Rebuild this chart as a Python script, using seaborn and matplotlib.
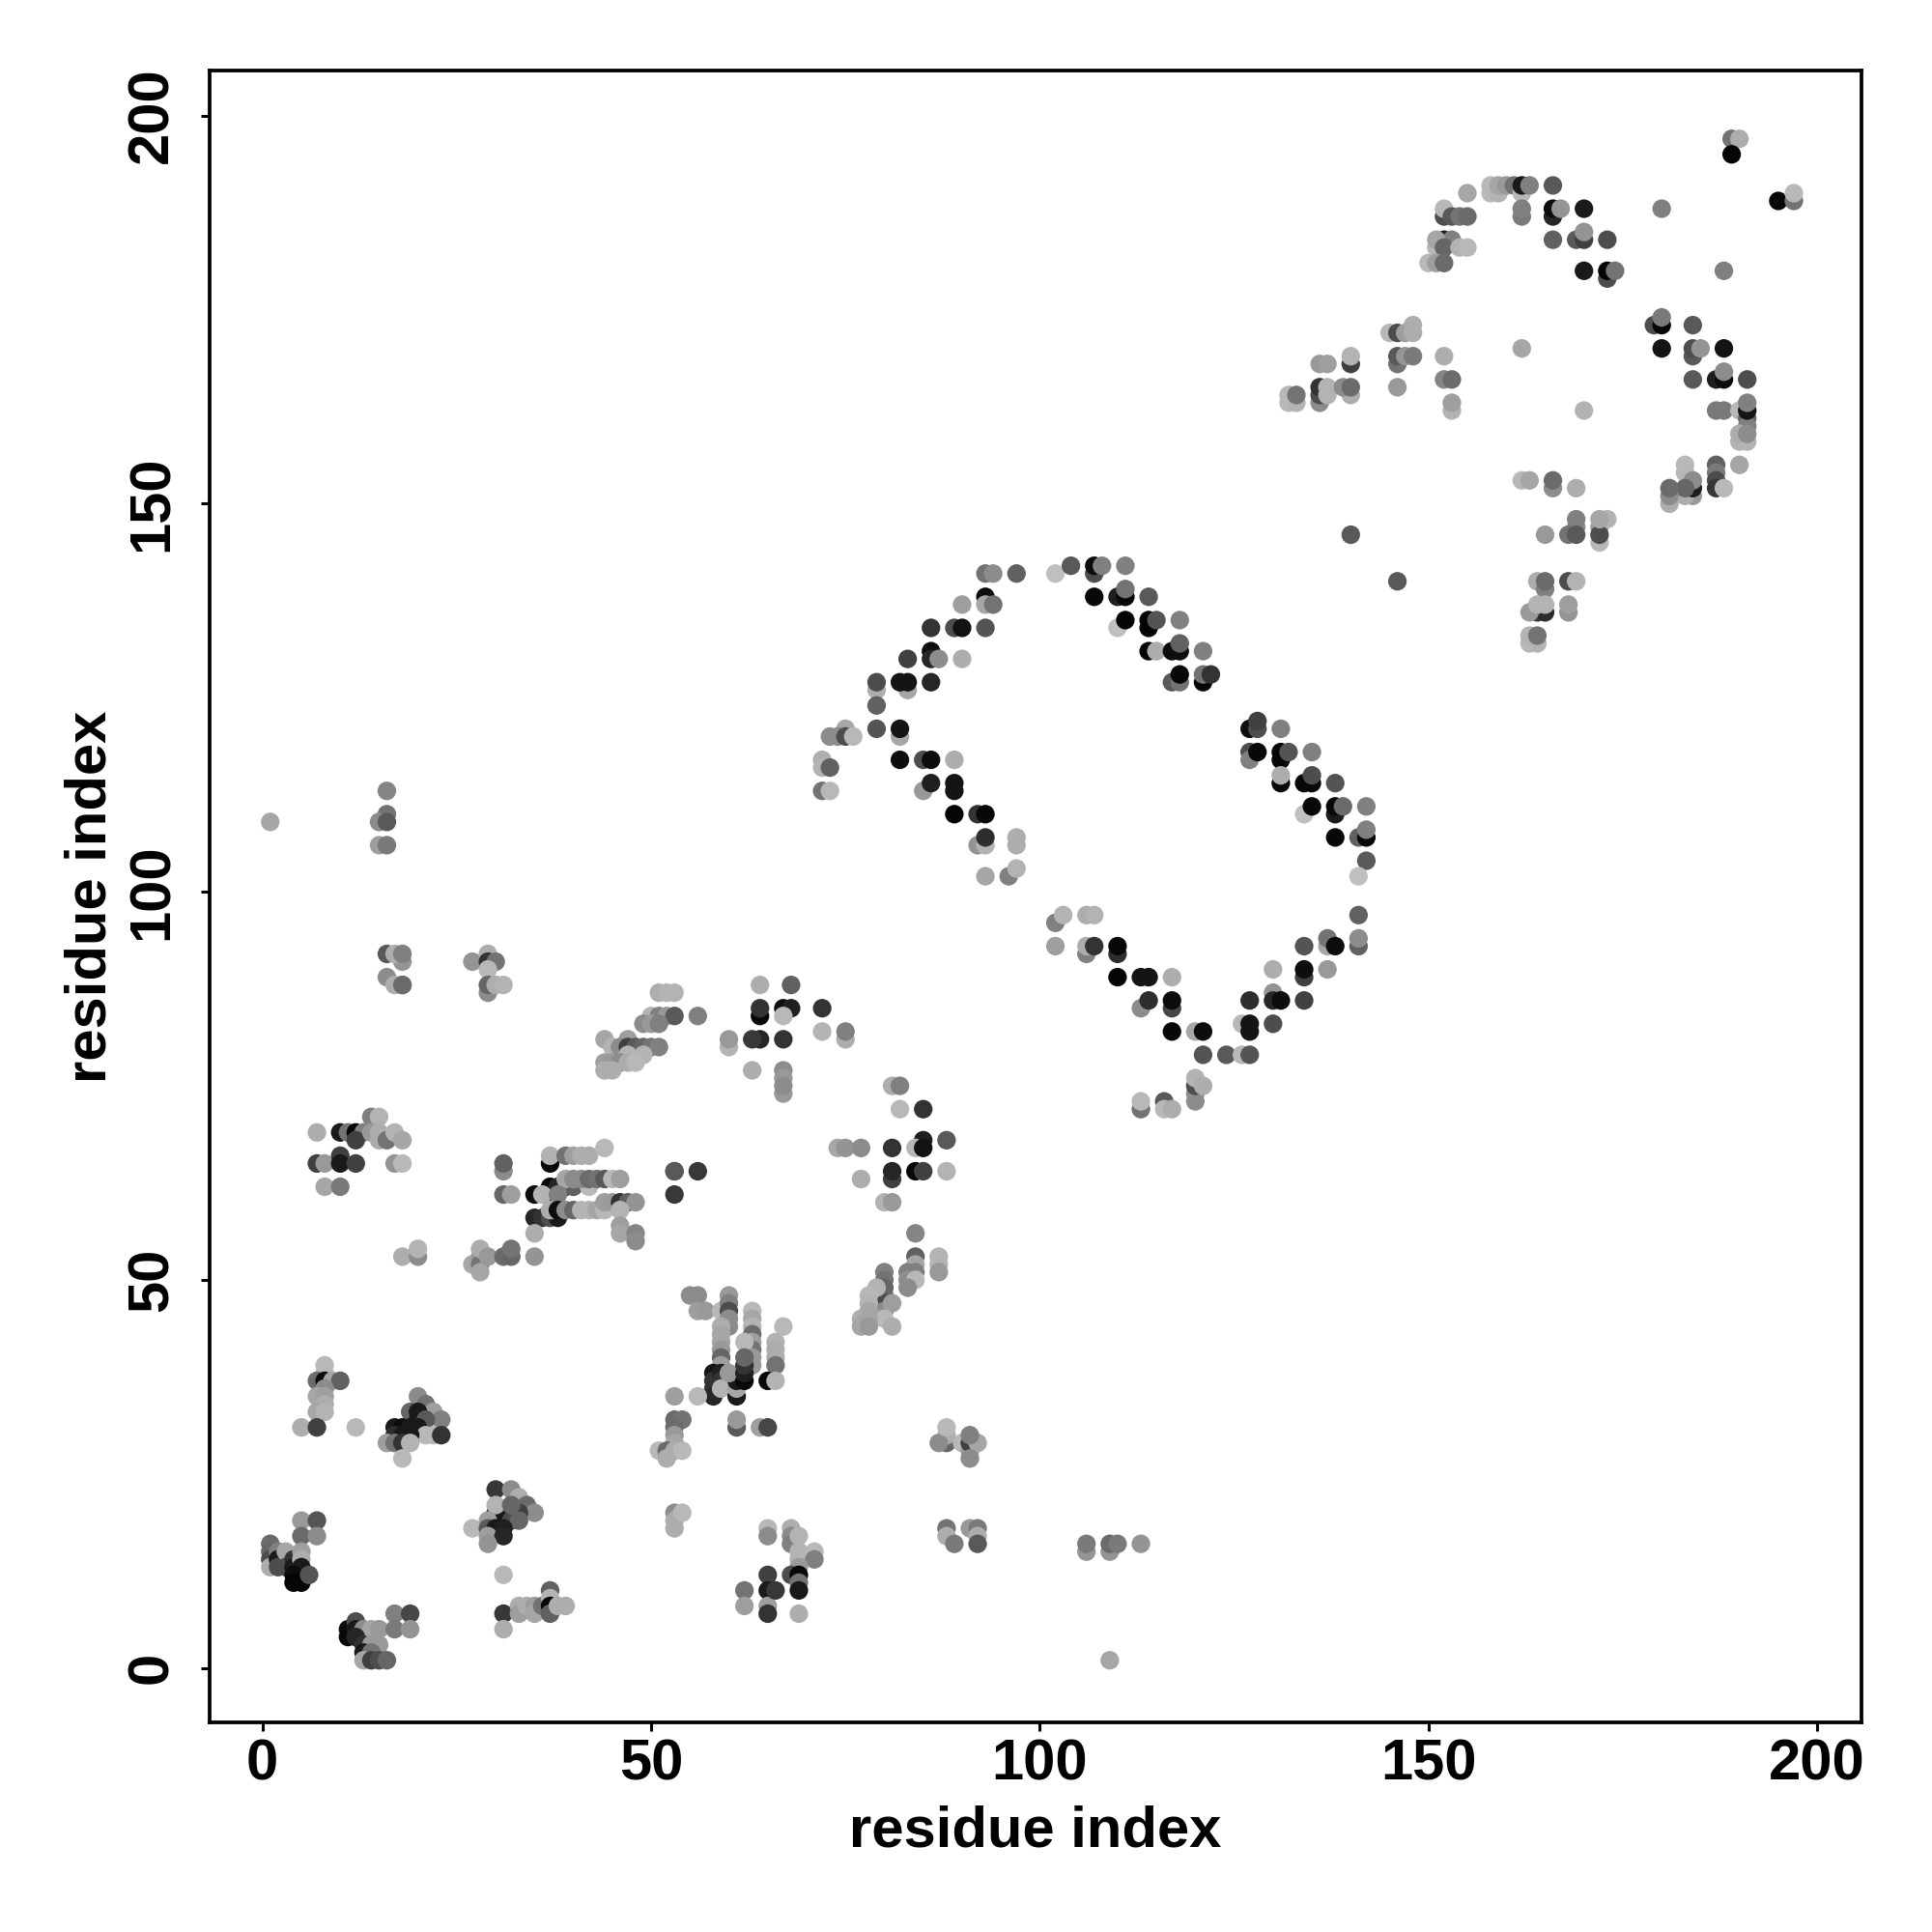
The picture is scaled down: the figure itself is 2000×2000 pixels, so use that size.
import pandas as pd
import seaborn as sns
import matplotlib.pyplot as plt

# contact map: residue pairs and their grey level, by cluster
corner_x = [5, 7, 5, 7, 1, 1, 1, 1, 2, 2, 2, 3, 3, 4, 4, 5, 5, 5, 4, 4, 5, 6]
corner_y = [19, 19, 17, 17, 16, 15, 14, 13, 15, 14, 13, 15, 13, 14, 13, 15, 14, 13, 12, 11, 11, 12]
corner_s = [.6, .33, .42, .55, .42, .4, .3, .68, .5, .1, .3, .65, .3, .2, .1, .62, .68, .1, .05, .02, .02, .33]

foot_x = [11, 11, 12, 12, 13, 14, 15, 12, 13, 14, 15, 13, 14, 13, 14, 15, 16, 17, 19, 17, 19]
foot_y = [5, 4, 6, 5, 5, 5, 5, 4, 3, 3, 3, 2, 2, 1, 1, 1, 1, 7, 7, 5, 5]
foot_s = [.05, .03, .3, .1, .55, .65, .6, .15, .2, .6, .6, .1, .45, .65, .25, .3, .4, .5, .28, .48, .58]

tri_x = [30, 32, 33, 34, 35, 30, 33, 32, 30, 31, 31, 32, 33, 30, 32, 27, 29, 29, 30, 31, 29, 31, 29, 31]
tri_y = [23, 23, 22, 21, 20, 20, 20, 20, 19, 20, 19, 19, 19, 21, 21, 18, 19, 18, 18, 18, 17, 17, 16, 12]
tri_s = [.22, .55, .68, .42, .55, .1, .25, .15, .05, .15, .1, .3, .4, .7, .4, .72, .62, .35, .1, .12, .62, .15, .58, .72]

low_x = [31, 31, 33, 33, 34, 35, 35, 36, 37, 37, 37, 37, 38, 39, 53, 53, 54, 53, 62, 62, 65, 65, 65, 66, 65, 65, 69]
low_y = [7, 5, 8, 7, 8, 8, 7, 8, 10, 9, 8, 7, 8, 8, 20, 19, 20, 18, 10, 8, 12, 10, 8, 10, 7, 18, 7]
low_s = [.22, .68, .68, .62, .68, .62, .65, .45, .38, .7, .03, .38, .68, .68, .55, .68, .72, .68, .45, .62, .25, .1, .62, .22, .2, .72, .68]

hook_x = [65, 68, 68, 68, 69, 69, 69, 71, 71, 69, 68, 69, 69, 69, 88, 88, 89, 91, 92, 92, 92]
hook_y = [17, 18, 17, 16, 17, 15, 14, 15, 14, 13, 12, 12, 11, 10, 18, 17, 16, 18, 18, 17, 16]
hook_s = [.55, .68, .55, .5, .7, .7, .7, .72, .5, .6, .3, .03, .45, .1, .45, .68, .48, .6, .48, .68, .35]

tail_x = [106, 106, 109, 109, 110, 113, 109, 88, 88, 87, 88, 90, 91, 91, 92, 91, 91]
tail_y = [15, 16, 15, 16, 16, 16, 1, 29, 30, 29, 31, 29, 28, 29, 29, 27, 30]
tail_s = [.58, .48, .58, .42, .48, .58, .65, .4, .68, .55, .72, .72, .6, .25, .65, .55, .5]

stack_x = [55, 56, 56, 57, 59, 60, 60, 60, 60, 60, 59, 59, 59, 59, 59, 59, 58, 58, 58, 58, 59, 59, 59]
stack_y = [48, 48, 46, 46, 46, 48, 47, 46, 45, 44, 44, 43, 42, 41, 40, 39, 38, 37, 36, 35, 38, 37, 36]
stack_s = [.55, .55, .62, .6, .72, .6, .5, .3, .55, .55, .68, .65, .65, .6, .4, .62, .08, .2, .2, .15, .12, .2, .7]

stack2_x = [63, 63, 63, 63, 63, 63, 63, 63, 62, 67, 66, 66, 66, 66, 65, 66, 61, 61, 61, 60, 62, 62, 62, 62]
stack2_y = [46, 45, 44, 43, 42, 41, 40, 39, 42, 44, 42, 41, 40, 39, 37, 37, 35, 36, 37, 38, 37, 38, 39, 40]
stack2_s = [.72, .65, .7, .42, .62, .45, .6, .6, .72, .72, .7, .68, .68, .45, .03, .7, .1, .65, .1, .6, .03, .12, .2, .4]

under_x = [53, 56, 53, 54, 53, 53, 53, 51, 52, 53, 54, 52, 61, 61, 64, 65]
under_y = [35, 35, 32, 32, 31, 30, 29, 28, 28, 28, 28, 27, 31, 32, 31, 31]
under_s = [.62, .72, .42, .45, .42, .6, .65, .72, .42, .68, .72, .68, .35, .6, .62, .28]

arm_x = [8, 8, 7, 8, 9, 10, 8, 7, 8, 8, 7, 8, 5, 7, 12]
arm_y = [39, 38, 37, 37, 37, 37, 36, 35, 35, 34, 33, 33, 31, 31, 31]
arm_s = [.72, .72, .42, .05, .65, .38, .55, .65, .62, .68, .65, .7, .68, .25, .72]

wedge_x = [20, 21, 22, 23, 19, 20, 20, 21, 17, 18, 19, 20, 21, 22, 23, 17, 18, 19, 16, 17, 18, 19, 18]
wedge_y = [35, 34, 33, 32, 33, 33, 32, 32, 31, 31, 31, 31, 30, 30, 30, 30, 30, 30, 29, 29, 29, 29, 27]
wedge_s = [.55, .45, .62, .5, .4, .1, .1, .35, .1, .05, .1, .1, .72, .72, .2, .18, .1, .1, .62, .45, .2, .7, .72]

mid_x = [7, 10, 11, 12, 13, 12, 14, 15, 14, 15, 15, 16, 17, 18, 7, 8, 10, 10, 12, 17, 18, 8, 10]
mid_y = [69, 69, 69, 69, 69, 68, 71, 71, 69, 69, 68, 68, 69, 68, 65, 65, 66, 65, 65, 65, 65, 62, 62]
mid_s = [.68, .1, .45, .03, .5, .25, .5, .7, .6, .68, .68, .45, .7, .65, .25, .6, .25, .1, .25, .58, .72, .65, .48]

bars_x = [31, 31, 31, 32, 37, 37, 39, 40, 41, 42, 44, 37, 37, 38, 39, 40, 42, 39, 40, 41, 42, 43, 44, 45, 46, 35, 36, 38]
bars_y = [64, 65, 61, 61, 65, 66, 66, 66, 66, 66, 67, 62, 61, 62, 62, 62, 62, 63, 63, 63, 63, 63, 63, 63, 63, 61, 61, 61]
bars_s = [.55, .38, .4, .62, .03, .7, .45, .62, .68, .68, .72, .02, .02, .15, .2, .38, .72, .65, .55, .55, .42, .45, .35, .72, .62, .05, .7, .5]

bars2_x = [35, 36, 37, 38, 37, 38, 39, 40, 41, 42, 43, 44, 44, 45, 46, 47, 48, 46, 35, 46, 46, 48, 48]
bars2_y = [58, 58, 58, 58, 59, 59, 59, 59, 59, 59, 59, 59, 60, 60, 60, 60, 60, 59, 56, 57, 56, 56, 55]
bars2_s = [.15, .2, .3, .1, .68, .05, .55, .4, .7, .7, .65, .72, .62, .6, .2, .38, .58, .7, .68, .62, .65, .52, .55]

flat_x = [18, 20, 20, 27, 28, 28, 28, 28, 29, 31, 32, 32, 35, 53, 53, 53]
flat_y = [53, 53, 54, 52, 53, 52, 51, 54, 53, 53, 53, 54, 53, 64, 61, 64]
flat_s = [.68, .55, .7, .65, .6, .45, .65, .68, .6, .42, .4, .45, .58, .35, .22, .35]

top_x = [56, 1, 16, 16, 15, 16, 15, 16, 16, 18, 17, 18, 18, 16, 17, 18, 27, 29, 29, 30, 29, 29, 29, 30, 31]
top_y = [64, 109, 113, 110, 109, 109, 106, 106, 92, 91, 92, 92, 88, 89, 88, 88, 91, 92, 91, 91, 90, 87, 88, 88, 88]
top_s = [.22, .65, .52, .45, .55, .35, .62, .48, .35, .58, .68, .5, .42, .55, .68, .42, .58, .68, .2, .45, .72, .55, .4, .68, .7]

slope_x = [51, 52, 53, 50, 51, 52, 53, 56, 49, 50, 51, 44, 47, 45, 46, 47, 48, 49, 50, 51, 47, 49, 44, 45, 46, 47, 48, 44, 45]
slope_y = [87, 87, 87, 84, 84, 84, 84, 84, 83, 83, 83, 81, 81, 80, 80, 80, 80, 80, 80, 80, 79, 79, 78, 78, 78, 78, 78, 77, 77]
slope_s = [.68, .7, .7, .7, .5, .6, .35, .5, .55, .6, .5, .65, .62, .7, .55, .25, .35, .4, .45, .5, .7, .7, .62, .6, .55, .68, .72, .68, .68]

centre_x = [60, 60, 64, 68, 64, 64, 67, 68, 67, 72, 64, 63, 67, 72, 75, 75, 63, 67, 67, 67, 67]
centre_y = [80, 81, 88, 88, 84, 85, 85, 85, 84, 85, 81, 81, 81, 82, 81, 82, 77, 77, 76, 74, 75]
centre_s = [.7, .6, .68, .38, .03, .2, .05, .12, .72, .2, .15, .22, .2, .7, .68, .5, .68, .55, .6, .6, .55]

patch_x = [81, 82, 82, 85, 85, 88, 84, 85, 74, 75, 77, 81, 81, 81, 84, 85, 88, 77, 80, 81]
patch_y = [75, 75, 72, 72, 68, 68, 67, 67, 67, 67, 67, 67, 63, 64, 64, 64, 64, 63, 60, 60]
patch_s = [.68, .5, .72, .2, .12, .35, .72, .08, .65, .58, .55, .2, .25, .15, .03, .25, .7, .68, .7, .6]

fan_x = [84, 84, 87, 84, 87, 83, 84, 87, 83, 84, 83, 80, 80, 80, 80, 80, 80, 79, 78, 78, 78, 81, 80, 77, 78, 77, 78, 81]
fan_y = [56, 53, 53, 52, 52, 51, 51, 51, 50, 50, 49, 51, 50, 49, 48, 47, 46, 49, 48, 47, 46, 47, 45, 45, 45, 44, 44, 44]
fan_s = [.52, .38, .7, .65, .7, .5, .5, .6, .55, .72, .55, .5, .45, .4, .4, .3, .55, .7, .72, .7, .65, .62, .72, .68, .65, .65, .6, .68]

ring_a_x = [93, 94, 97, 102, 107, 104, 107, 108, 111, 93, 93, 94, 90, 86, 89, 90, 93, 86, 86, 87, 83, 90, 79, 83, 79, 82, 83, 86, 79, 79, 82, 82]
ring_a_y = [141, 141, 141, 141, 141, 142, 142, 142, 142, 138, 137, 137, 137, 134, 134, 134, 134, 131, 130, 130, 130, 130, 126, 126, 127, 127, 127, 127, 124, 121, 120, 121]
ring_a_s = [.45, .55, .38, .75, .3, .35, .05, .5, .5, .05, .65, .45, .62, .2, .3, .07, .33, .05, .15, .55, .25, .68, .68, .65, .3, .08, .08, .15, .38, .33, .65, .08]

elbow_x = [75, 73, 74, 75, 76, 72, 72, 73, 72, 73, 82, 85, 86, 89, 85, 86, 89, 89, 89, 92, 93, 92, 93, 93, 97, 97, 93, 96, 97]
elbow_y = [121, 120, 120, 120, 120, 117, 116, 116, 113, 113, 117, 117, 117, 117, 113, 114, 114, 113, 110, 110, 110, 106, 106, 107, 107, 106, 102, 102, 103]
elbow_s = [.65, .55, .55, .3, .72, .68, .7, .38, .45, .72, .05, .3, .05, .68, .6, .12, .08, .08, .02, .2, .03, .58, .7, .18, .68, .68, .65, .5, .7]

ring_b_x = [107, 110, 111, 111, 114, 110, 111, 114, 114, 115, 118, 114, 115, 117, 118, 118, 121, 117, 118, 118, 121, 121, 122]
ring_b_y = [138, 138, 138, 139, 138, 134, 135, 135, 134, 135, 135, 131, 131, 131, 131, 132, 131, 127, 127, 128, 127, 128, 128]
ring_b_s = [.03, .12, .03, .45, .35, .75, .02, .02, .02, .33, .5, .02, .68, .05, .05, .38, .5, .35, .45, .03, .03, .45, .2]

ring_c_x = [127, 128, 128, 131, 127, 127, 128, 131, 131, 132, 135, 131, 131, 134, 135, 135, 138, 134, 135, 138, 138, 139, 142, 138, 141, 142, 142, 142, 141]
ring_c_y = [121, 121, 122, 121, 118, 117, 118, 117, 118, 118, 118, 114, 115, 114, 114, 115, 114, 110, 111, 110, 111, 111, 111, 107, 107, 107, 108, 104, 102]
ring_c_s = [.05, .3, .25, .5, .3, .5, .03, .03, .03, .33, .5, .03, .68, .03, .03, .3, .33, .75, .03, .1, .03, .42, .5, .03, .38, .03, .5, .35, .75]

ring_d_x = [141, 141, 141, 137, 137, 138, 134, 130, 134, 134, 137, 127, 130, 130, 131, 134, 126, 127, 127, 130, 121, 124, 126, 127]
ring_d_y = [97, 93, 94, 93, 94, 93, 93, 90, 89, 90, 90, 86, 87, 86, 86, 86, 83, 82, 83, 83, 79, 79, 79, 79]
ring_d_s = [.38, .38, .55, .65, .45, .05, .33, .68, .25, .05, .6, .18, .58, .15, .05, .25, .72, .08, .08, .3, .33, .35, .72, .33]

ring_e_x = [117, 120, 121, 113, 114, 117, 117, 110, 113, 114, 117, 110, 110, 106, 106, 107, 102, 102, 103, 106, 107]
ring_e_y = [82, 82, 82, 85, 86, 85, 86, 89, 89, 89, 89, 92, 93, 92, 93, 93, 93, 96, 97, 97, 97]
ring_e_s = [.03, .65, .05, .55, .18, .28, .05, .02, .08, .08, .68, .18, .03, .5, .68, .2, .62, .5, .7, .68, .7]

base_x = [120, 120, 120, 120, 121, 113, 113, 116, 116, 117]
base_y = [73, 74, 75, 76, 75, 72, 73, 73, 72, 72]
base_s = [.55, .55, .3, .7, .68, .45, .72, .35, .72, .68]

crown_x = [189, 190, 189, 195, 197, 197, 155, 158, 158, 159, 159, 160, 161, 162, 162, 163, 166, 162, 162, 166, 166, 167, 170, 180]
crown_y = [197, 197, 195, 189, 189, 190, 190, 190, 191, 190, 191, 191, 191, 190, 191, 191, 191, 187, 188, 187, 188, 188, 188, 188]
crown_s = [.45, .68, .02, .03, .45, .72, .65, .72, .72, .7, .65, .6, .45, .72, .1, .5, .35, .48, .5, .15, .05, .58, .1, .5]

crest_x = [152, 152, 153, 154, 155, 151, 152, 153, 151, 152, 154, 155, 150, 151, 152, 166, 169, 170, 170, 173, 170, 173, 173, 174, 188]
crest_y = [187, 188, 187, 187, 187, 183, 184, 184, 184, 183, 183, 183, 181, 181, 181, 184, 184, 184, 185, 184, 180, 179, 180, 180, 180]
crest_s = [.3, .72, .35, .45, .42, .72, .12, .5, .65, .4, .7, .72, .72, .62, .42, .38, .35, .25, .58, .3, .1, .3, .02, .45, .5]

side_x = [179, 180, 180, 184, 180, 184, 184, 185, 188, 162, 184, 187, 188, 188, 191, 187, 188, 190, 191, 191, 191, 191, 190, 191, 190, 191, 170, 190]
side_y = [173, 173, 174, 173, 170, 169, 170, 170, 170, 170, 166, 166, 166, 167, 166, 162, 162, 162, 161, 160, 162, 163, 158, 158, 159, 159, 162, 155]
side_s = [.3, .02, .48, .35, .08, .35, .3, .58, .08, .65, .35, .12, .05, .55, .3, .48, .48, .72, .4, .5, .08, .5, .7, .7, .68, .55, .7, .65]

lobe_x = [187, 187, 187, 187, 188, 183, 183, 184, 183, 184, 184, 183, 181, 181, 181, 162, 163, 166, 166, 169]
lobe_y = [155, 154, 153, 152, 152, 155, 154, 151, 151, 152, 153, 152, 150, 151, 152, 153, 153, 152, 153, 152]
lobe_s = [.38, .48, .3, .22, .72, .72, .72, .6, .68, .12, .55, .4, .68, .55, .42, .72, .65, .55, .42, .68]

drop_x = [169, 169, 172, 173, 172, 168, 169, 172, 172, 165, 140, 146, 164, 165, 165, 168, 169, 164, 165, 163, 164, 165, 168, 168, 163, 164, 163, 164]
drop_y = [147, 148, 147, 148, 145, 146, 146, 146, 148, 146, 146, 140, 140, 139, 140, 140, 140, 136, 136, 136, 137, 137, 136, 137, 132, 132, 133, 133]
drop_s = [.55, .5, .62, .7, .72, .45, .35, .3, .65, .6, .35, .35, .68, .5, .42, .3, .7, .22, .18, .6, .7, .7, .58, .62, .72, .7, .7, .45]

fold_x = [136, 137, 140, 140, 145, 146, 147, 148, 148, 146, 146, 147, 148, 146, 152, 152, 153, 153, 153]
fold_y = [168, 168, 168, 169, 172, 172, 172, 172, 173, 168, 169, 169, 169, 165, 169, 166, 166, 162, 163]
fold_s = [.6, .62, .25, .7, .72, .3, .62, .68, .68, .45, .35, .58, .48, .6, .68, .52, .42, .7, .62]

fold2_x = [132, 133, 132, 133, 136, 136, 136, 137, 137, 140, 139, 140]
fold2_y = [163, 163, 164, 164, 163, 164, 165, 164, 165, 164, 165, 165]
fold2_s = [.72, .7, .72, .45, .55, .3, .2, .7, .7, .68, .55, .42]

res_x = (corner_x + foot_x + tri_x + low_x + hook_x + tail_x + stack_x + stack2_x + under_x + arm_x + wedge_x
         + mid_x + bars_x + bars2_x + flat_x + top_x + slope_x + centre_x + patch_x + fan_x + ring_a_x + elbow_x
         + ring_b_x + ring_c_x + ring_d_x + ring_e_x + base_x + crown_x + crest_x + side_x + lobe_x + drop_x
         + fold_x + fold2_x)
res_y = (corner_y + foot_y + tri_y + low_y + hook_y + tail_y + stack_y + stack2_y + under_y + arm_y + wedge_y
         + mid_y + bars_y + bars2_y + flat_y + top_y + slope_y + centre_y + patch_y + fan_y + ring_a_y + elbow_y
         + ring_b_y + ring_c_y + ring_d_y + ring_e_y + base_y + crown_y + crest_y + side_y + lobe_y + drop_y
         + fold_y + fold2_y)
shade = (corner_s + foot_s + tri_s + low_s + hook_s + tail_s + stack_s + stack2_s + under_s + arm_s + wedge_s
         + mid_s + bars_s + bars2_s + flat_s + top_s + slope_s + centre_s + patch_s + fan_s + ring_a_s + elbow_s
         + ring_b_s + ring_c_s + ring_d_s + ring_e_s + base_s + crown_s + crest_s + side_s + lobe_s + drop_s
         + fold_s + fold2_s)

axis_ticks = [0, 50, 100, 150, 200]

df = pd.DataFrame({"x": res_x, "y": res_y, "shade": shade})

sns.set_theme(style="ticks")
plt.rcParams["font.family"] = ["Liberation Sans", "DejaVu Sans"]
plt.rcParams["font.weight"] = "bold"

fig = plt.figure(figsize=(10, 10), dpi=200)
ax = fig.add_axes([217 / 2000, 217 / 2000, 1710 / 2000, 1710 / 2000])

greys = {v: str(v) for v in sorted(set(shade))}
sns.scatterplot(data=df, x="x", y="y", hue="shade", palette=greys, s=48, linewidth=0, legend=False, ax=ax)

ax.set_xlim(-6.8, 205.7)
ax.set_ylim(-7.0, 205.8)
ax.set_xticks(axis_ticks)
ax.set_yticks(axis_ticks)
ax.tick_params(axis="both", length=3.4, width=1.1, color="black", labelsize=21.5, labelcolor="black")
ax.tick_params(axis="x", pad=2.5)
ax.tick_params(axis="y", pad=8)
plt.setp(ax.get_yticklabels(), rotation=90, va="center")
for side in ax.spines.values():
    side.set_linewidth(1.35)
    side.set_color("black")

ax.set_xlabel("residue index", fontsize=21.5, fontweight="bold", color="black", labelpad=5)
ax.set_ylabel("residue index", fontsize=21.5, fontweight="bold", color="black", labelpad=3)

fig.savefig("out.png", dpi=200, facecolor="white")
